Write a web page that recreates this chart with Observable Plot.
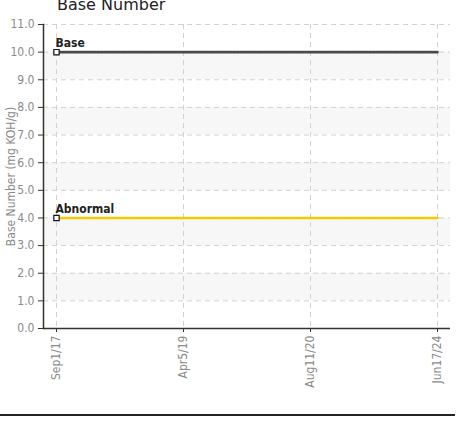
<!DOCTYPE html>
<html>
<head>
<meta charset="utf-8">
<script src="https://cdn.jsdelivr.net/npm/d3@7"></script>
<script src="https://cdn.jsdelivr.net/npm/@observablehq/plot@0.6"></script>
<style>
  body { margin: 0; background: #fff; overflow: hidden; }
  #wrap { position: relative; width: 458px; height: 423px; }
  #title { position: absolute; left: 57px; top: -5px; font-family: "DejaVu Sans", sans-serif; font-size: 16px; color: #222; }
  #rule { position: absolute; left: 0; top: 414px; width: 455px; height: 2px; background: #222; }
  svg { position: absolute; left: 0; top: 0; }
</style>
</head>
<body>
<div id="wrap">
  <div id="chart"></div>
  <div id="title">Base Number</div>
  <div id="rule"></div>
</div>
<script>
const dates = ["Sep1/17", "Apr5/19", "Aug11/20", "Jun17/24"];
const seriesNames = ["Base", "Abnormal"];
const seriesValues = [10, 4];
const seriesColors = ["#4a4a4a", "#f5c800"];
const yTicks = [0, 1, 2, 3, 4, 5, 6, 7, 8, 9, 10, 11];
const bandStarts = [1, 3, 5, 7, 9];

const lineData = seriesNames.flatMap((name, i) =>
  dates.map(d => ({ name, date: d, value: seriesValues[i], color: seriesColors[i] })));
const firstPoints = seriesNames.map((name, i) => ({ name, date: dates[0], value: seriesValues[i] }));
const bands = bandStarts.map(b => ({ y1: b, y2: b + 1 }));

const font = '"DejaVu Sans Condensed", "DejaVu Sans", sans-serif';

const chart = Plot.plot({
  width: 458,
  height: 413,
  marginLeft: 43,
  marginRight: 8,
  marginTop: 24,
  marginBottom: 85,
  style: { fontFamily: font, background: "transparent" },
  x: { type: "point", domain: dates, padding: 0.1 },
  y: { domain: [0, 11] },
  marks: [
    Plot.rect(bands, { y1: "y1", y2: "y2", fill: "#f7f7f7" }),
    Plot.gridY(yTicks, { stroke: "#d2d2d2", strokeOpacity: 1, strokeDasharray: "5,4" }),
    Plot.gridX(dates, { stroke: "#d2d2d2", strokeOpacity: 1, strokeDasharray: "5,4" }),
    Plot.axisY(yTicks, {
      tickFormat: d3.format(".1f"), fontSize: 12, color: "#8a8a8a", tickSize: 5,
      stroke: "#333", label: "Base Number (mg KOH/g)", labelAnchor: "center",
      labelArrow: "none", labelOffset: 37
    }),
    Plot.axisX(dates, {
      tickRotate: -90, fontSize: 12, color: "#8a8a8a", tickSize: 4, tickPadding: 3,
      stroke: "#333", label: null
    }),
    Plot.frame({ anchor: "left", stroke: "#333", strokeWidth: 1.5 }),
    Plot.ruleY([0], { stroke: "#333", strokeWidth: 1.5 }),
    Plot.line(lineData, {
      x: "date", y: "value", z: "name", stroke: "color",
      strokeWidth: 2.6, strokeDasharray: "2,1.4"
    }),
    Plot.dot(firstPoints, { x: "date", y: "value", symbol: "square", r: 3, fill: "white", stroke: "#111", strokeWidth: 1.2 }),
    Plot.text(firstPoints, {
      x: "date", y: "value", text: "name", textAnchor: "start", dy: -9, dx: -1,
      fontSize: 12, fontWeight: 600, fill: "#222"
    })
  ]
});
document.getElementById("chart").appendChild(chart);
</script>
</body>
</html>
